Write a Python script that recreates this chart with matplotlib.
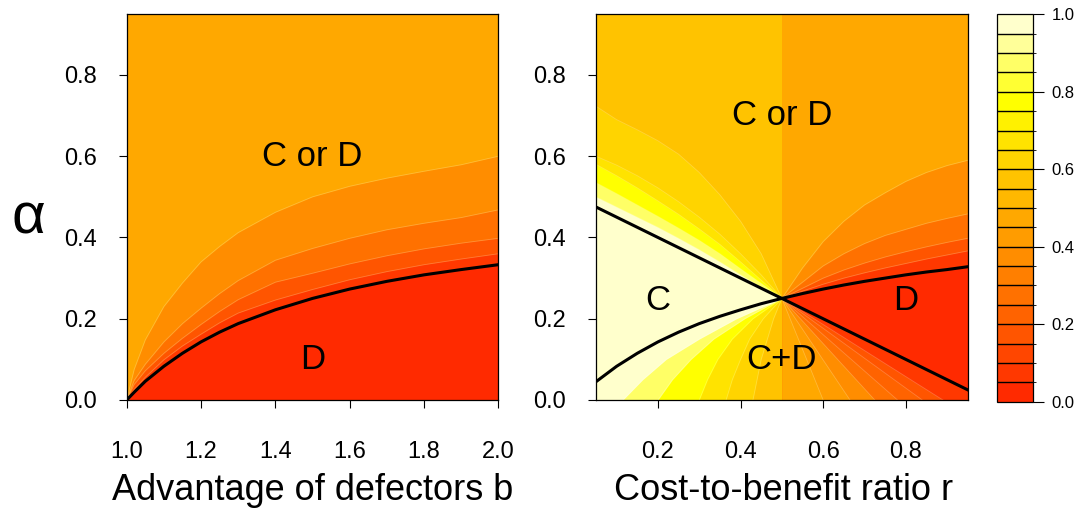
import matplotlib
matplotlib.use("Agg")
import matplotlib.pyplot as plt
from matplotlib.colors import ListedColormap, BoundaryNorm
from matplotlib.cm import ScalarMappable
import numpy as np

plt.rcParams['font.family'] = ['Liberation Sans', 'DejaVu Sans']

# 20-step heat palette for the level scale, 0 -> 1
level_colors = ['#FF2A00', '#FF3800', '#FF4600', '#FF5500', '#FF6300', '#FF7100',
                '#FF7F00', '#FF8D00', '#FF9C00', '#FFA800', '#FFB800', '#FFC300',
                '#FFD400', '#FFE300', '#FFF100', '#FFFF00', '#FFFF33', '#FFFF66',
                '#FFFF99', '#FFFFCC']
levels = np.linspace(0, 1, 21)
cbar_ticks = [0.0, 0.2, 0.4, 0.6, 0.8, 1.0]
cbar_ticklabels = ['0.0', '0.2', '0.4', '0.6', '0.8', '1.0']

# ---- left panel: advantage of defectors b ----
b_vals = [1.0, 1.02, 1.05, 1.1, 1.15, 1.2, 1.25, 1.3, 1.4, 1.5, 1.6, 1.7, 1.8, 1.9, 2.0]
b_bound1 = [0.0, 0.075, 0.148, 0.230, 0.288, 0.340, 0.378, 0.412, 0.462, 0.500, 0.526, 0.546, 0.563, 0.579, 0.600]
b_bound2 = [0.0, 0.048, 0.088, 0.143, 0.188, 0.226, 0.262, 0.294, 0.344, 0.373, 0.398, 0.419, 0.435, 0.449, 0.468]
b_bound3 = [0.0, 0.038, 0.072, 0.115, 0.152, 0.186, 0.218, 0.247, 0.290, 0.312, 0.335, 0.355, 0.372, 0.386, 0.398]
b_bound4 = [0.0, 0.026, 0.056, 0.099, 0.133, 0.162, 0.190, 0.214, 0.246, 0.272, 0.296, 0.316, 0.333, 0.347, 0.360]
b_thresh = [0.0, 0.019, 0.046, 0.083, 0.115, 0.143, 0.167, 0.188, 0.222, 0.250, 0.273, 0.292, 0.308, 0.321, 0.333]
b_band_levels = [9, 7, 5, 3, 1, 0]          # top region, then each band downward
b_xticks = [1.0, 1.2, 1.4, 1.6, 1.8, 2.0]
b_xticklabels = ['1.0', '1.2', '1.4', '1.6', '1.8', '2.0']

# ---- right panel: cost-to-benefit ratio r ----
r_left = [0.05, 0.1, 0.15, 0.2, 0.25, 0.3, 0.35, 0.4, 0.45, 0.5]
r_up1 = [0.723, 0.690, 0.665, 0.638, 0.605, 0.560, 0.505, 0.440, 0.360, 0.25]
r_up2 = [0.600, 0.578, 0.552, 0.522, 0.488, 0.450, 0.408, 0.360, 0.308, 0.25]
r_up3 = [0.580, 0.552, 0.522, 0.490, 0.457, 0.421, 0.383, 0.340, 0.295, 0.25]
r_up4 = [0.535, 0.508, 0.480, 0.452, 0.423, 0.393, 0.360, 0.323, 0.287, 0.25]
r_up5 = [0.500, 0.475, 0.450, 0.425, 0.398, 0.370, 0.340, 0.308, 0.277, 0.25]
r_upleft_levels = [11, 12, 13, 15, 17, 19]

alpha_low = [0.0, 0.05, 0.1, 0.15, 0.2, 0.25]
r_low1 = [0.115, 0.163, 0.220, 0.300, 0.390, 0.5]
r_low2 = [0.200, 0.235, 0.280, 0.335, 0.410, 0.5]
r_low3 = [0.300, 0.320, 0.345, 0.380, 0.430, 0.5]
r_low4 = [0.365, 0.380, 0.400, 0.422, 0.455, 0.5]
r_low5 = [0.430, 0.440, 0.450, 0.465, 0.480, 0.5]
r_lowleft_levels = [17, 15, 13, 12, 11]

r_right = [0.5, 0.55, 0.6, 0.65, 0.7, 0.75, 0.8, 0.85, 0.9, 0.95]
r_rb1 = [0.25, 0.325, 0.390, 0.440, 0.480, 0.510, 0.538, 0.560, 0.577, 0.590]
r_rb2 = [0.25, 0.290, 0.330, 0.360, 0.385, 0.405, 0.420, 0.435, 0.447, 0.458]
r_rb3 = [0.25, 0.275, 0.300, 0.320, 0.337, 0.352, 0.365, 0.377, 0.388, 0.398]
r_rb4 = [0.25, 0.268, 0.285, 0.300, 0.313, 0.325, 0.336, 0.347, 0.357, 0.367]
r_upright_levels = [9, 7, 5, 3, 1, 0]

r_lr1 = [0.600, 0.580, 0.560, 0.540, 0.520, 0.5]
r_lr2 = [0.665, 0.632, 0.599, 0.566, 0.533, 0.5]
r_lr3 = [0.725, 0.680, 0.635, 0.590, 0.545, 0.5]
r_lr4 = [0.780, 0.724, 0.668, 0.612, 0.556, 0.5]
r_lr5 = [0.840, 0.772, 0.704, 0.636, 0.568, 0.5]
r_lr6 = [0.890, 0.812, 0.734, 0.656, 0.578, 0.5]
r_lowright_levels = [9, 8, 7, 5, 4, 3, 1]

# threshold lines in the right panel
r_curve = [0.05, 0.1, 0.15, 0.2, 0.25, 0.3, 0.35, 0.4, 0.45, 0.5,
           0.55, 0.6, 0.65, 0.7, 0.75, 0.8, 0.85, 0.9, 0.95]
alpha_curve = [0.045, 0.083, 0.115, 0.143, 0.167, 0.188, 0.206, 0.222, 0.237, 0.250,
               0.262, 0.273, 0.283, 0.292, 0.300, 0.308, 0.315, 0.321, 0.328]
r_line = [0.05, 0.5, 0.95]
alpha_line = [0.475, 0.25, 0.025]
r_xticks = [0.2, 0.4, 0.6, 0.8]
r_xticklabels = ['0.2', '0.4', '0.6', '0.8']

y_ticks = [0.0, 0.2, 0.4, 0.6, 0.8]
y_ticklabels = ['0.0', '0.2', '0.4', '0.6', '0.8']
y_max = 0.95

W, H = 1085, 515
fig = plt.figure(figsize=(W / 100, H / 100), dpi=100)


def px_axes(x0, y0, x1, y1):
    return fig.add_axes([x0 / W, 1 - y1 / H, (x1 - x0) / W, (y1 - y0) / H])


ax1 = px_axes(126.7, 14, 498.3, 400)
ax2 = px_axes(596, 14, 967.7, 400)
cax = px_axes(997, 14.3, 1032.7, 401.7)

col = lambda i: level_colors[i]
seam = dict(color='white', alpha=0.22, lw=0.6, zorder=1.5)

# left panel bands, painted from the top region downward
ax1.fill_between(b_vals, 0, y_max, color=col(b_band_levels[0]), lw=0)
for bound, lev in zip([b_bound1, b_bound2, b_bound3, b_bound4, b_thresh], b_band_levels[1:]):
    ax1.fill_between(b_vals, 0, bound, color=col(lev), lw=0)
for bound in (b_bound1, b_bound2, b_bound3, b_bound4):
    ax1.plot(b_vals, bound, **seam)
ax1.plot(b_vals, b_thresh, color='black', lw=2.2, solid_capstyle='butt', zorder=3)
ax1.set_xlim(1.0, 2.0)
ax1.set_ylim(0, y_max)
ax1.set_xticks(b_xticks)
ax1.set_xticklabels(b_xticklabels)
ax1.text(1.5, 0.60, 'C or D', fontsize=25, ha='center', va='center')
ax1.text(1.5, 0.10, 'D', fontsize=25, ha='center', va='center')

# right panel, left half (r < 0.5)
ax2.fill_between(r_left, 0, y_max, color=col(r_upleft_levels[0]), lw=0)
for bound, lev in zip([r_up1, r_up2, r_up3, r_up4, r_up5], r_upleft_levels[1:]):
    ax2.fill_between(r_left, 0, bound, color=col(lev), lw=0)
for bound, lev in zip([r_low1, r_low2, r_low3, r_low4, r_low5], r_lowleft_levels):
    ax2.fill_betweenx(alpha_low, bound, 0.5, color=col(lev), lw=0)

# right panel, right half (r > 0.5)
ax2.fill_between(r_right, 0, y_max, color=col(r_upright_levels[0]), lw=0)
for bound, lev in zip([r_rb1, r_rb2, r_rb3, r_rb4, alpha_curve[9:]], r_upright_levels[1:]):
    ax2.fill_between(r_right, 0, bound, color=col(lev), lw=0)
ax2.fill_between(r_line[1:], 0, alpha_line[1:], color=col(r_lowright_levels[-1]), lw=0)
for bound, lev in zip([r_lr6, r_lr5, r_lr4, r_lr3, r_lr2, r_lr1], r_lowright_levels[-2::-1]):
    ax2.fill_betweenx(alpha_low, 0.5, bound, color=col(lev), lw=0)

for bound in (r_up1, r_up2, r_up3, r_up4, r_up5):
    ax2.plot(r_left, bound, **seam)
for bound in (r_rb1, r_rb2, r_rb3, r_rb4):
    ax2.plot(r_right, bound, **seam)
for bound in (r_low1, r_low2, r_low3, r_low4, r_low5,
              r_lr1, r_lr2, r_lr3, r_lr4, r_lr5, r_lr6):
    ax2.plot(bound, alpha_low, **seam)

ax2.plot(r_curve, alpha_curve, color='black', lw=2.2, zorder=3)
ax2.plot(r_line, alpha_line, color='black', lw=2.2, zorder=3)
ax2.set_xlim(0.05, 0.95)
ax2.set_ylim(0, y_max)
ax2.set_xticks(r_xticks)
ax2.set_xticklabels(r_xticklabels)
ax2.text(0.5, 0.70, 'C or D', fontsize=25, ha='center', va='center')
ax2.text(0.2, 0.245, 'C', fontsize=25, ha='center', va='center')
ax2.text(0.8, 0.245, 'D', fontsize=25, ha='center', va='center')
ax2.text(0.5, 0.10, 'C+D', fontsize=25, ha='center', va='center')

for ax in (ax1, ax2):
    ax.set_yticks(y_ticks)
    ax.set_yticklabels(y_ticklabels)
    ax.tick_params(axis='both', direction='out', length=5.5, width=0.8, labelsize=17)
    ax.tick_params(axis='x', pad=24)
    ax.tick_params(axis='y', pad=16)
    for s in ax.spines.values():
        s.set_linewidth(0.9)
        s.set_color('black')
        s.set_zorder(4)

# colour key
cmap = ListedColormap(level_colors)
norm = BoundaryNorm(levels, cmap.N)
cb = fig.colorbar(ScalarMappable(norm=norm, cmap=cmap), cax=cax, drawedges=True,
                  ticks=cbar_ticks)
cb.set_ticklabels(cbar_ticklabels)
cb.dividers.set_color('black')
cb.dividers.set_linewidth(1.0)
cb.outline.set_linewidth(0.9)
cax.tick_params(direction='out', length=7.6, width=0.8, labelsize=12, pad=6)

fig.text(313 / W, 1 - 500 / H, 'Advantage of defectors b', fontsize=26,
         ha='center', va='baseline')
fig.text(784 / W, 1 - 500 / H, 'Cost-to-benefit ratio r', fontsize=26,
         ha='center', va='baseline')
fig.text(28 / W, 1 - 233 / H, 'α', fontsize=42, ha='center', va='baseline')

fig.savefig('out.png', dpi=100)
